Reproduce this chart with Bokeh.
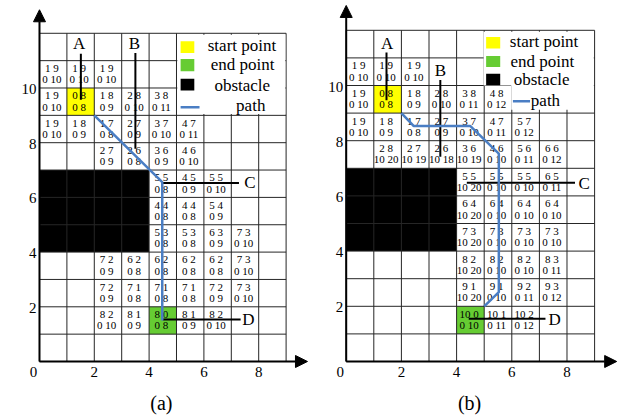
from bokeh.plotting import figure
from bokeh.layouts import row
from bokeh.models import Range1d, Arrow, NormalHead, ColumnDataSource
from bokeh.core.properties import value
from bokeh.embed import file_html
from bokeh.resources import INLINE

FONT = "Liberation Serif"

# ---------------- data ----------------
GRID_COLS = 9
GRID_ROWS = 12
x_ticks = [2, 4, 6, 8]
y_ticks = [2, 4, 6, 8, 10]

obstacle = (0, 4, 4, 7)          # x0, x1, y0, y1
start_cell = (1, 9)
end_cell = (4, 1)

# panel (a) cells
a_col = [0, 1, 2, 0, 1, 2, 3, 4, 0, 1, 2, 3, 4, 5, 2, 3, 4, 5, 4, 5, 6, 4, 5, 6,
         4, 5, 6, 7, 2, 3, 4, 5, 6, 7, 2, 3, 4, 5, 6, 7, 2, 3, 4, 5, 6]
a_row = [10, 10, 10, 9, 9, 9, 9, 9, 8, 8, 8, 8, 8, 8, 7, 7, 7, 7, 6, 6, 6, 5, 5, 5,
         4, 4, 4, 4, 3, 3, 3, 3, 3, 3, 2, 2, 2, 2, 2, 2, 1, 1, 1, 1, 1]
a_tl = [1, 1, 1, 1, 0, 1, 2, 3, 1, 1, 1, 2, 3, 4, 2, 2, 3, 4, 5, 4, 5, 4, 4, 5,
        5, 5, 6, 7, 7, 6, 6, 6, 6, 7, 7, 7, 7, 7, 7, 7, 8, 8, 8, 8, 8]
a_tr = [9, 9, 9, 9, 8, 8, 8, 8, 9, 8, 7, 7, 7, 7, 7, 6, 6, 6, 5, 5, 5, 4, 4, 4,
        3, 3, 3, 3, 2, 2, 2, 2, 2, 3, 2, 1, 1, 1, 2, 3, 2, 1, 0, 1, 2]
a_bl = [0] * 45
a_br = [10, 10, 10, 10, 8, 9, 10, 11, 10, 9, 8, 9, 10, 11, 9, 8, 9, 10, 8, 9, 10, 8, 8, 9,
        8, 8, 9, 10, 9, 8, 8, 8, 8, 10, 9, 8, 8, 8, 9, 10, 10, 9, 8, 9, 10]
a_path_x = [2, 4.48, 4.48]
a_path_y = [9, 6.56, 1.5]

# panel (b) cells
b_col = [0, 1, 2, 0, 1, 2, 3, 4, 5, 0, 1, 2, 3, 4, 5, 6, 1, 2, 3, 4, 5, 6, 7,
         4, 5, 6, 7, 4, 5, 6, 7, 4, 5, 6, 7, 4, 5, 6, 7, 4, 5, 6, 7, 4, 5, 6]
b_row = [10, 10, 10, 9, 9, 9, 9, 9, 9, 8, 8, 8, 8, 8, 8, 8, 7, 7, 7, 7, 7, 7, 7,
         6, 6, 6, 6, 5, 5, 5, 5, 4, 4, 4, 4, 3, 3, 3, 3, 2, 2, 2, 2, 1, 1, 1]
b_tl = [1, 1, 1, 1, 0, 1, 2, 3, 4, 1, 1, 1, 2, 3, 4, 5, 2, 2, 2, 3, 4, 5, 6,
        5, 5, 5, 6, 6, 6, 6, 6, 7, 7, 7, 7, 8, 8, 8, 8, 9, 9, 9, 9, 10, 10, 10]
b_tr = [9, 9, 9, 9, 8, 8, 8, 8, 8, 9, 8, 7, 7, 7, 7, 7, 8, 7, 6, 6, 6, 6, 6,
        5, 5, 5, 5, 4, 4, 4, 4, 3, 3, 3, 3, 2, 2, 2, 3, 1, 1, 2, 3, 0, 1, 2]
b_bl = [0, 0, 0, 0, 0, 0, 0, 0, 0, 0, 0, 0, 0, 0, 0, 0, 10, 10, 10, 10, 0, 0, 0,
        10, 0, 0, 0, 10, 0, 0, 0, 10, 0, 0, 0, 10, 0, 0, 0, 10, 0, 0, 0, 0, 0, 0]
b_br = [10, 10, 10, 10, 8, 9, 10, 11, 12, 10, 9, 8, 9, 10, 11, 12, 20, 19, 18, 19, 10, 11, 12,
        20, 10, 10, 11, 20, 10, 10, 10, 20, 10, 10, 10, 20, 10, 10, 11, 20, 10, 11, 12, 10, 11, 12]
b_path_x = [2, 2.45, 4.5, 5.53, 5.53, 5.0]
b_path_y = [9, 8.53, 8.53, 7.53, 2.51, 2.0]

legend_labels = ["start point", "end point", "obstacle", "path"]
legend_colors = ["#FFFF00", "#66CC33", "#000000"]
PATH_COLOR = "#4A7EC4"
GRID_COLOR = "#262626"


def build(cfg, cols, rows, tl, tr, bl, br, px, py):
    p = figure(width=cfg["w"], height=cfg["h"], output_backend="svg",
               toolbar_location=None, min_border=0,
               x_range=Range1d(*cfg["xr"]), y_range=Range1d(*cfg["yr"]))
    p.axis.visible = False
    p.grid.visible = False
    p.outline_line_color = None
    p.background_fill_color = "white"

    # filled cells
    ox0, ox1, oy0, oy1 = obstacle
    p.quad(left=[ox0], right=[ox1], bottom=[oy0], top=[oy1], color="black", line_width=0)
    p.quad(left=[start_cell[0]], right=[start_cell[0] + 1], bottom=[start_cell[1]],
           top=[start_cell[1] + 1], fill_color=legend_colors[0], line_width=0)
    p.quad(left=[end_cell[0]], right=[end_cell[0] + 1], bottom=[end_cell[1]],
           top=[end_cell[1] + 1], fill_color=legend_colors[1], line_width=0)

    # grid
    vx = list(range(GRID_COLS + 1))
    p.segment(x0=vx, y0=[0] * len(vx), x1=vx, y1=[GRID_ROWS] * len(vx),
              line_color=GRID_COLOR, line_width=1)
    hy = list(range(GRID_ROWS + 1))
    p.segment(x0=[0] * len(hy), y0=hy, x1=[GRID_COLS] * len(hy), y1=hy,
              line_color=GRID_COLOR, line_width=1)

    # legend background
    for (l, r, b, t) in cfg["legbox"]:
        p.quad(left=[l], right=[r], bottom=[b], top=[t], fill_color="white", line_width=0)

    # legend items
    lg = cfg["leg"]
    for i in range(3):
        sx0, sx1, sy0, sy1 = lg["sw"][i]
        p.quad(left=[sx0], right=[sx1], bottom=[sy0], top=[sy1],
               fill_color=legend_colors[i], line_width=0)
    lx0, lx1, ly = lg["line"]
    p.line(x=[lx0, lx1], y=[ly, ly], line_color=PATH_COLOR, line_width=2.5)
    p.text(x=[t[0] for t in lg["txt"]], y=[t[1] for t in lg["txt"]], text=legend_labels,
           text_font=value(FONT), text_font_size="17px", text_align="center",
           text_baseline="middle", text_color="black")

    # cell texts
    top = [f"{a} {b}" for a, b in zip(tl, tr)]
    bot = [f"{a} {b}" for a, b in zip(bl, br)]
    src = ColumnDataSource(dict(x=[c + 0.45 for c in cols],
                                yt=[r + 0.73 for r in rows],
                                yb=[r + 0.32 for r in rows],
                                top=top, bot=bot))
    for ycol, tcol in (("yt", "top"), ("yb", "bot")):
        p.text(x="x", y=ycol, text=tcol, source=src, text_font=value(FONT),
               text_font_size="11px", text_align="center", text_baseline="middle",
               text_color="black")

    # section lines A-D
    for (x0, y0, x1, y1) in cfg["secs"]:
        p.line(x=[x0, x1], y=[y0, y1], line_color="black", line_width=2)
    p.text(x=[s[0] for s in cfg["seclab"]], y=[s[1] for s in cfg["seclab"]],
           text=["A", "B", "C", "D"], text_font=value(FONT), text_font_size="17px",
           text_align="center", text_baseline="middle", text_color="black")

    # path
    p.line(x=px, y=py, line_color=PATH_COLOR, line_width=2.5)

    # axes with arrows
    p.add_layout(Arrow(end=NormalHead(size=12, fill_color="black", line_color="black"),
                       x_start=0, y_start=0, x_end=0, y_end=cfg["ytip"],
                       line_color="black", line_width=2))
    p.add_layout(Arrow(end=NormalHead(size=12, fill_color="black", line_color="black"),
                       x_start=0, y_start=0, x_end=cfg["xtip"], y_end=0,
                       line_color="black", line_width=2))

    # tick labels
    p.text(x=x_ticks, y=[0] * len(x_ticks), text=[str(v) for v in x_ticks],
           text_font=value(FONT), text_font_size="15px", text_align="center",
           text_baseline="middle", y_offset=11, text_color="black")
    p.text(x=[0] * len(y_ticks), y=y_ticks, text=[str(v) for v in y_ticks],
           text_font=value(FONT), text_font_size="15px", text_align="right",
           text_baseline="middle", x_offset=-3, y_offset=1, text_color="black")
    p.text(x=[0], y=[0], text=["0"], text_font=value(FONT), text_font_size="15px",
           text_align="center", text_baseline="middle", x_offset=-6, y_offset=11,
           text_color="black")

    # panel caption
    p.text(x=[cfg["cap"][0]], y=[cfg["cap"][1]], text=[cfg["cap"][2]],
           text_font=value(FONT), text_font_size="20px", text_align="center",
           text_baseline="middle", text_color="black")
    return p


cfg_a = dict(
    w=313, h=416, xr=(-1.423, 10.0), yr=(-2.011, 13.199),
    legbox=[(5.03, 8.97, 9.05, 11.95)],
    leg=dict(sw=[(5.15, 5.65, 11.28, 11.71), (5.15, 5.65, 10.61, 11.06), (5.15, 5.65, 9.91, 10.34)],
             line=(5.15, 5.84, 9.30),
             txt=[(7.39, 11.57), (7.41, 10.85), (7.40, 10.09), (7.71, 9.35)]),
    secs=[(1.51, 11.25, 1.51, 9.57), (3.5, 11.28, 3.5, 7.78),
          (4.5, 6.53, 7.28, 6.53), (4.5, 1.54, 7.34, 1.54)],
    seclab=[(1.45, 11.61), (3.46, 11.61), (7.68, 6.53), (7.62, 1.52)],
    ytip=12.86, xtip=9.78, cap=(4.45, -1.5, "(a)"))

cfg_b = dict(
    w=305, h=416, xr=(-1.185, 9.866), yr=(-1.993, 13.080),
    legbox=[(4.98, 8.97, 10.0, 11.95), (5.98, 8.97, 9.12, 10.05)],
    leg=dict(sw=[(5.07, 5.58, 11.34, 11.76), (5.07, 5.58, 10.67, 11.07), (5.07, 5.58, 10.01, 10.43)],
             line=(6.04, 6.66, 9.43),
             txt=[(7.17, 11.58), (7.11, 10.88), (7.08, 10.23), (7.22, 9.47)]),
    secs=[(1.46, 11.2, 1.46, 9.47), (3.41, 10.2, 3.41, 7.42),
          (4.37, 6.48, 8.29, 6.48), (4.44, 1.55, 7.22, 1.55)],
    seclab=[(1.48, 11.52), (3.41, 10.55), (8.62, 6.46), (7.55, 1.52)],
    ytip=12.9, xtip=9.8, cap=(4.47, -1.49, "(b)"))

pa = build(cfg_a, a_col, a_row, a_tl, a_tr, a_bl, a_br, a_path_x, a_path_y)
pb = build(cfg_b, b_col, b_row, b_tl, b_tr, b_bl, b_br, b_path_x, b_path_y)

layout = row(pa, pb)
open("out.html", "w").write(file_html(layout, INLINE))
